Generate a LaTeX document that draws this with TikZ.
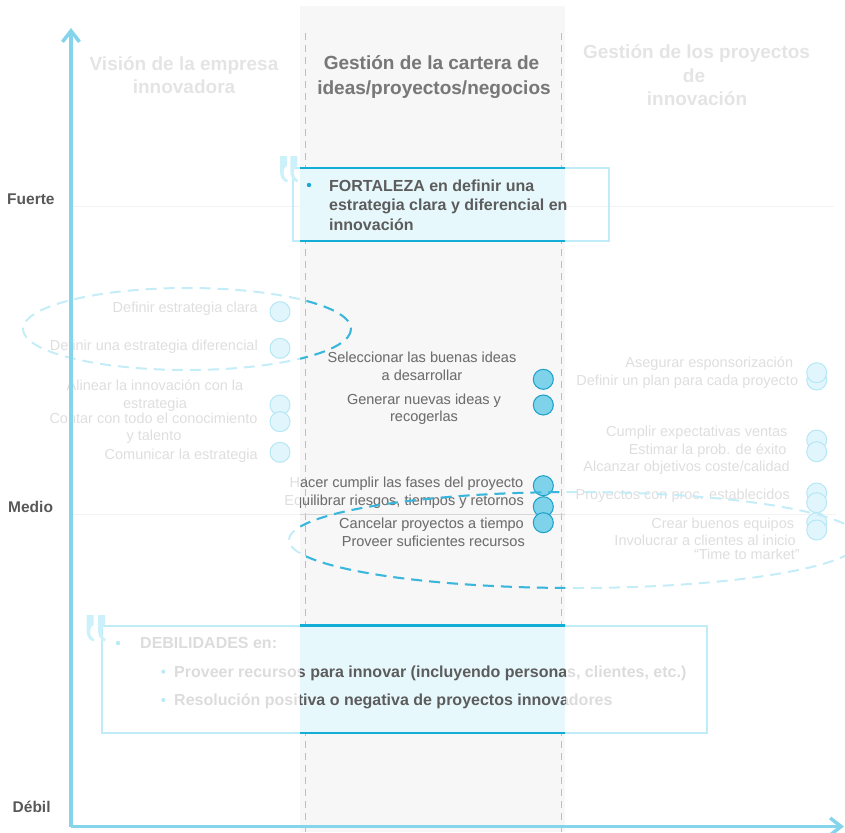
\documentclass[tikz,border=0pt]{standalone}
\usepackage{fontspec}
\setmainfont{Liberation Sans}
\usetikzlibrary{arrows.meta}

% fixed colours
\definecolor{axisblue}{RGB}{132,212,236}
\definecolor{colbg}{RGB}{247,247,247}
\definecolor{coldash}{RGB}{190,190,190}
\definecolor{labelgray}{RGB}{88,88,88}
\definecolor{boxfill}{RGB}{231,248,252}
\definecolor{boxrule}{RGB}{20,173,214}
\definecolor{fadeframe}{RGB}{192,236,247}
\definecolor{fadequote}{RGB}{205,241,251}
\definecolor{strongquote}{RGB}{110,205,235}
\definecolor{strongbold}{RGB}{92,92,92}
\definecolor{strongbullet}{RGB}{26,168,210}

% faded palette (outside the highlighted column)
\definecolor{fitem}{RGB}{222,222,222}
\definecolor{fhead}{RGB}{228,228,228}
\definecolor{fbold}{RGB}{220,220,220}
\definecolor{fcfill}{RGB}{224,246,252}
\definecolor{fcdraw}{RGB}{182,231,244}
\definecolor{fring}{RGB}{196,237,248}
\definecolor{fgrid}{RGB}{243,243,243}
\definecolor{fbull}{RGB}{185,234,247}

% strong palette (inside the highlighted column)
\definecolor{sitem}{RGB}{110,110,110}
\definecolor{shead}{RGB}{120,120,120}
\definecolor{sbold}{RGB}{92,92,92}
\definecolor{scfill}{RGB}{126,211,234}
\definecolor{scdraw}{RGB}{28,161,201}
\definecolor{sring}{RGB}{58,181,220}
\definecolor{sgrid}{RGB}{214,214,214}
\definecolor{sbull}{RGB}{140,218,240}

\colorlet{itxt}{fitem}
\colorlet{htxt}{fhead}
\colorlet{btxt}{fbold}
\colorlet{cfill}{fcfill}
\colorlet{cdraw}{fcdraw}
\colorlet{ringc}{fring}
\colorlet{gridc}{fgrid}
\colorlet{bullc}{fbull}

\tikzset{
  item/.style={font=\fontsize{14.5}{17}\selectfont, text=itxt, inner sep=0pt},
  head/.style={font=\bfseries\fontsize{19}{23}\selectfont, text=htxt, inner sep=0pt, anchor=base},
  boxtext/.style={font=\bfseries\fontsize{16}{19}\selectfont, text=btxt, inner sep=0pt, anchor=base west},
  levellabel/.style={font=\bfseries\fontsize{15.5}{18}\selectfont, text=labelgray, inner sep=0pt, anchor=base west},
  dot/.style={circle, minimum size=20pt, inner sep=0pt, fill=cfill, draw=cdraw, line width=1pt},
  ring/.style={draw=ringc, dash pattern=on 11pt off 7pt, line width=2pt},
  axis/.style={draw=axisblue, line width=3.5pt, -{Straight Barb[length=11pt,width=17pt]}},
  % one heavy opening quote: block on top, thin stem, flick at the foot
  quotestroke/.pic={
    \fill (0,0) -- (7,0) -- (7,10)
          .. controls (4.5,11) and (3.6,13) .. (3.6,16)
          .. controls (3.6,20) and (5,23) .. (8,24.5) -- (6.5,26.5)
          .. controls (2,24.5) and (0,20.5) .. (0,15) -- cycle;
  },
  qmark/.pic={
    \pic {quotestroke};
    \pic at (11.5,0) {quotestroke};
  },
}

% box frames; redefined for the highlighted column
\newcommand\layerboxes{%
  \draw[fadeframe, line width=2pt] (293.3,168) rectangle (609,240.7);
  \draw[fadeframe, line width=2pt] (101.7,625.5) rectangle (706.7,733.3);
  \pic[color=fadequote, scale=0.9] (qa) at (280,156) {qmark};
  \pic[color=fadequote] (qb) at (86.5,615) {qmark};
}

% everything that changes colour between the faded and highlighted parts
\newcommand\heatlayer{%
  % level lines
  \draw[gridc, line width=1pt] (72,206) -- (834,206);
  \draw[gridc, line width=1pt] (72,514) -- (836,514);
  \layerboxes
  % column titles
  \node[head] (hv1) at (184,70.7) {Visión de la empresa};
  \node[head] (hv2) at (184,94) {innovadora};
  \node[head] (hc1) at (431.5,70) {Gestión de la cartera de};
  \node[head] (hc2) at (434,94.3) {ideas/proyectos/negocios};
  \node[head] (hp1) at (696.5,59) {Gestión de los proyectos};
  \node[head] (hp2) at (694,83) {de};
  \node[head] (hp3) at (697,106) {innovación};
  % vision column
  \node[item, anchor=base east] (v1) at (258,312.3) {Definir estrategia clara};
  \node[item, anchor=base east] (v2) at (258,350.7) {Definir una estrategia diferencial};
  \node[item, anchor=base] (v3a) at (155,390.7) {Alinear la innovación con la};
  \node[item, anchor=base] (v3b) at (155,408.3) {estrategia};
  \node[item, anchor=base] (v4a) at (153.5,423.3) {Contar con todo el conocimiento};
  \node[item, anchor=base] (v4b) at (154,440.5) {y talento};
  \node[item, anchor=base east] (v5) at (258,459) {Comunicar la estrategia};
  \node[dot] (cv1) at (280,311.7) {};
  \node[dot] (cv2) at (280,348.3) {};
  \node[dot] (cv3) at (280,405) {};
  \node[dot] (cv4) at (280,421.7) {};
  \node[dot] (cv5) at (280,452.3) {};
  % portfolio column
  \node[item, anchor=base] (g1a) at (422,362.3) {Seleccionar las buenas ideas};
  \node[item, anchor=base] (g1b) at (422,380) {a desarrollar};
  \node[item, anchor=base] (g2a) at (424,404) {Generar nuevas ideas y};
  \node[item, anchor=base] (g2b) at (424,421) {recogerlas};
  \node[item, anchor=base east] (g3) at (523.5,487.3) {Hacer cumplir las fases del proyecto};
  \node[item, anchor=base east] (g4) at (524,505) {Equilibrar riesgos, tiempos y retornos};
  \node[item, anchor=base east] (g5) at (524,528.3) {Cancelar proyectos a tiempo};
  \node[item, anchor=base east] (g6) at (525,546.3) {Proveer suficientes recursos};
  \node[dot] (cg1) at (543.3,379.3) {};
  \node[dot] (cg2) at (543.3,405) {};
  \node[dot] (cg3) at (543.3,485.7) {};
  \node[dot] (cg4) at (543.3,506.7) {};
  \node[dot] (cg5) at (543.3,522.7) {};
  % project column
  \node[item, anchor=base east] (p1) at (793.3,367.3) {Asegurar esponsorización};
  \node[item, anchor=base east] (p2) at (798.3,385.7) {Definir un plan para cada proyecto};
  \node[item, anchor=base east] (p3) at (787.7,436.7) {Cumplir expectativas ventas};
  \node[item, anchor=base east] (p4) at (786.7,454) {Estimar la prob. de éxito};
  \node[item, anchor=base east] (p5) at (790,471.7) {Alcanzar objetivos coste/calidad};
  \node[item, anchor=base east] (p6) at (790,499) {Proyectos con proc. establecidos};
  \node[item, anchor=base east] (p7) at (794.3,528.3) {Crear buenos equipos};
  \node[item, anchor=base east] (p8) at (796,545.7) {Involucrar a clientes al inicio};
  \node[item, anchor=base east] (p9) at (800,559.7) {“Time to market”};
  \node[dot] (cp2) at (816.7,380) {};
  \node[dot] (cp1) at (816.7,372.7) {};
  \node[dot] (cp3) at (816.7,440) {};
  \node[dot] (cp4) at (816.7,451.7) {};
  \node[dot] (cp5) at (816.7,493) {};
  \node[dot] (cp6) at (816.7,502.7) {};
  \node[dot] (cp7) at (816.7,522.7) {};
  \node[dot] (cp8) at (816.7,530) {};
  % weaknesses
  \fill[bullc] (118,643) circle (2.2);
  \fill[bullc] (163.3,671.7) circle (2);
  \fill[bullc] (163.3,700) circle (2);
  \node[boxtext] (d0) at (140,648.3) {DEBILIDADES en:};
  \node[boxtext] (d1) at (174,677.3) {Proveer recursos para innovar (incluyendo personas, clientes, etc.)};
  \node[boxtext] (d2) at (174,705.7) {Resolución positiva o negativa de proyectos innovadores};
  % groupings
  \draw[ring] (187,329) ellipse [x radius=164, y radius=41];
  \draw[ring] (575,540) ellipse [x radius=286, y radius=48];
}

\begin{document}
\begin{tikzpicture}[x=1pt, y=-1pt]
\useasboundingbox (0,0) rectangle (845,832);

% highlighted column
\fill[colbg] (300,6) rectangle (565,832);
\draw[coldash, line width=1.5pt, dash pattern=on 7pt off 5pt] (305.7,33) -- (305.7,832);
\draw[coldash, line width=1.5pt, dash pattern=on 7pt off 5pt] (561.7,33) -- (561.7,832);

% faded layer
\heatlayer

% highlighted layer, limited to the column
\begin{scope}
  \clip (300,0) rectangle (565,832);
  \colorlet{itxt}{sitem}
  \colorlet{htxt}{shead}
  \colorlet{btxt}{sbold}
  \colorlet{cfill}{scfill}
  \colorlet{cdraw}{scdraw}
  \colorlet{ringc}{sring}
  \colorlet{gridc}{sgrid}
  \colorlet{bullc}{sbull}
  \renewcommand\layerboxes{%
    \fill[boxfill] (293.3,168) rectangle (609,240.7);
    \fill[boxfill] (101.7,625.5) rectangle (706.7,733.3);
    \draw[boxrule, line width=2.3pt] (293.3,168) -- (609,168) (293.3,240.7) -- (609,240.7);
    \draw[boxrule, line width=2.3pt] (101.7,625.5) -- (706.7,625.5) (101.7,733.3) -- (706.7,733.3);
    \pic[color=strongquote, scale=0.9] (qa) at (280,156) {qmark};
  }
  \heatlayer
\end{scope}

% strength statement
\fill[strongbullet] (309,185) circle (2.2);
\node[boxtext, text=strongbold] (f1) at (329,191.7) {FORTALEZA en definir una};
\node[boxtext, text=strongbold] (f2) at (329,210.9) {estrategia clara y diferencial en};
\node[boxtext, text=strongbold] (f3) at (329,230) {innovación};

% level labels
\node[levellabel] (lf) at (7,204) {Fuerte};
\node[levellabel] (lm) at (8,512.5) {Medio};
\node[levellabel] (ld) at (12.5,812.3) {Débil};

% axes
\coordinate (origin) at (71,826.5);
\coordinate (ytop) at (71,28);
\coordinate (xend) at (844,826.5);
\draw[axis] (origin) -- (ytop);
\draw[axis] (origin) -- (xend);
\end{tikzpicture}
\end{document}
